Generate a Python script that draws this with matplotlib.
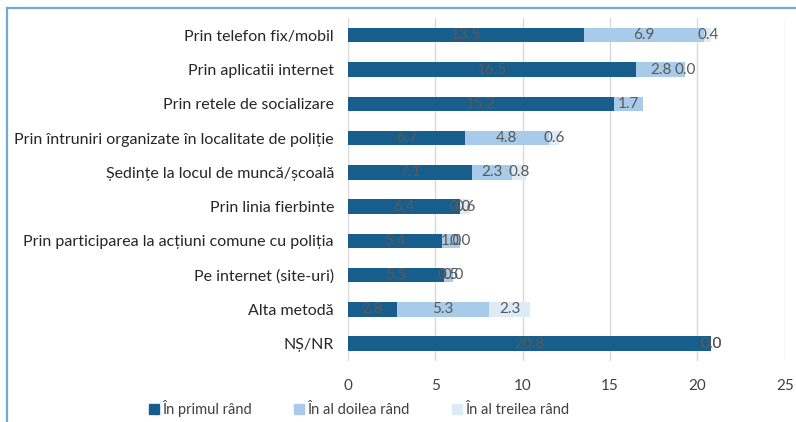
"""
Stacked horizontal bar chart: metode de comunicare cu poliția
"""

import matplotlib.pyplot as plt
import numpy as np
from matplotlib.lines import Line2D

plt.rcParams["font.family"] = ["Lato", "DejaVu Sans"]

categories = [
    "Prin telefon fix/mobil",
    "Prin aplicatii internet",
    "Prin retele de socializare",
    "Prin întruniri organizate în localitate de poliție",
    "Ședințe la locul de muncă/școală",
    "Prin linia fierbinte",
    "Prin participarea la acțiuni comune cu poliția",
    "Pe internet (site-uri)",
    "Alta metodă",
    "NȘ/NR",
]
primul = [13.5, 16.5, 15.2, 6.7, 7.1, 6.4, 5.4, 5.5, 2.8, 20.8]
doilea = [6.9, 2.8, 1.7, 4.8, 2.3, 0.0, 1.0, 0.5, 5.3, 0.0]
treilea = [0.4, 0.0, None, 0.6, 0.8, 0.6, 0.0, 0.0, 2.3, 0.0]
series_names = ["În primul rând", "În al doilea rând", "În al treilea rând"]
colors = ["#175E8C", "#A8CBE9", "#DDEBF7"]


def main():
    fig = plt.figure(figsize=(7.96, 4.22), dpi=100)
    ax = fig.add_axes([0.437, 0.145, 0.549, 0.812])

    y = np.arange(len(categories))
    left = np.zeros(len(categories))
    for vals, color, name in zip([primul, doilea, treilea], colors, series_names):
        v = np.array([0.0 if x is None else x for x in vals])
        ax.barh(y, v, left=left, height=0.42, color=color, label=name, zorder=2)
        for i, x in enumerate(vals):
            if x is None:
                continue
            ax.text(left[i] + x / 2, y[i], f"{x:.1f}", ha="center", va="center",
                    fontsize=11, color="#595959", zorder=3)
        left += v

    ax.set_yticks(y)
    ax.set_yticklabels(categories, fontsize=11.5, color="#262626")
    ax.invert_yaxis()
    ax.set_ylim(len(categories) - 0.5, -0.5)
    ax.set_xlim(0, 25)
    ax.set_xticks([0, 5, 10, 15, 20, 25])
    ax.tick_params(axis="x", labelsize=11, colors="#404040", length=0, pad=13)
    ax.tick_params(axis="y", length=0, pad=10)
    ax.grid(axis="x", color="#D9D9D9", linewidth=1, zorder=0)
    for s in ax.spines.values():
        s.set_visible(False)

    handles = [plt.Rectangle((0, 0), 1, 1, color=c) for c in colors]
    fig.legend(handles, series_names, loc="center", bbox_to_anchor=(0.451, 0.032),
               ncol=3, frameon=False, fontsize=10.5, handlelength=0.7,
               handleheight=0.7, handletextpad=0.2, columnspacing=2.9,
               labelcolor="#404040")

    # blue frame (top and left edges visible)
    fig.add_artist(Line2D([7 / 796, 1], [1 - 8 / 422, 1 - 8 / 422],
                          transform=fig.transFigure, color="#6FAADB", lw=1.6))
    fig.add_artist(Line2D([7 / 796, 7 / 796], [0, 1 - 8 / 422],
                          transform=fig.transFigure, color="#6FAADB", lw=1.6))

    fig.savefig("out.png", dpi=100)
    plt.close(fig)


if __name__ == "__main__":
    main()
